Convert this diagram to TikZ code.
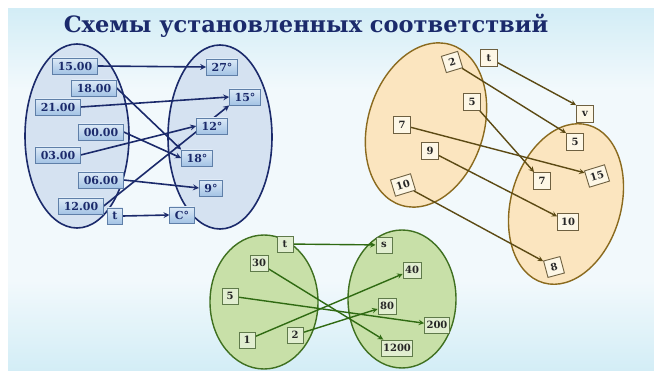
\documentclass[tikz,border=0pt]{standalone}
\usepackage{fontspec}
\setmainfont{DejaVu Serif}
\usetikzlibrary{positioning}
\pgfdeclarelayer{back}
\pgfdeclarelayer{lines}
\pgfsetlayers{back,lines,main}
\definecolor{navy}{HTML}{1B2A6B}
\definecolor{skyblue}{HTML}{D3EDF6}
\definecolor{skywhite}{HTML}{F2F9FC}
\definecolor{blueell}{HTML}{D5E2F1}
\definecolor{boxedge}{HTML}{5F7FA8}
\definecolor{boxtop}{HTML}{DDEAF7}
\definecolor{boxbot}{HTML}{A3C3E5}
\definecolor{ochre}{HTML}{8A6A1E}
\definecolor{peach}{HTML}{FBE5BF}
\definecolor{brownarr}{HTML}{5C4A14}
\definecolor{cream}{HTML}{FDF7E6}
\definecolor{creamedge}{HTML}{6E6040}
\definecolor{leaf}{HTML}{3F7020}
\definecolor{lightleaf}{HTML}{C8E0A8}
\definecolor{greenarr}{HTML}{2F6A12}
\definecolor{mint}{HTML}{E1EED0}
\definecolor{mintedge}{HTML}{5F7A4A}
\begin{document}
\begin{tikzpicture}[>=stealth, x=1pt, y=-1pt,
    bbox/.style={draw=boxedge, line width=0.9pt, top color=boxtop, bottom color=boxbot,
        text=navy, font=\bfseries\fontsize{11}{13}\selectfont, minimum height=16pt, inner xsep=5pt, inner ysep=1pt},
    obox/.style={draw=creamedge, line width=0.9pt, fill=cream, text=black!85,
        font=\bfseries\fontsize{10}{12}\selectfont, minimum size=17pt, inner xsep=3.5pt, inner ysep=3pt},
    gbox/.style={draw=mintedge, line width=0.9pt, fill=mint, text=black!85,
        font=\bfseries\fontsize{10}{12}\selectfont, minimum size=16pt, inner sep=2pt},
    barr/.style={->, navy, line width=1.6pt},
    oarr/.style={->, brownarr, line width=1.4pt},
    garr/.style={->, greenarr, line width=1.4pt}]
    \begin{pgfonlayer}{back}
        \fill[white] (0,0) rectangle (654,371);
        \shade[top color=skyblue, bottom color=skywhite] (8,9) rectangle (654,90);
        \fill[skywhite] (8,90) rectangle (654,280);
        \shade[top color=skywhite, bottom color=skyblue] (8,280) rectangle (654,371);
        \draw[navy, line width=1.6pt, fill=blueell] (77,136) ellipse [x radius=52, y radius=92];
        \draw[navy, line width=1.6pt, fill=blueell] (220,137) ellipse [x radius=52, y radius=92];
        \draw[ochre, line width=1.4pt, fill=peach, rotate around={-17:(426,125)}] (426,125) ellipse [x radius=58, y radius=84];
        \draw[ochre, line width=1.4pt, fill=peach, rotate around={-16:(566,204)}] (566,204) ellipse [x radius=55, y radius=82];
        \draw[leaf, line width=1.4pt, fill=lightleaf] (264,302) ellipse [x radius=54, y radius=67];
        \draw[leaf, line width=1.4pt, fill=lightleaf] (402,299) ellipse [x radius=54, y radius=69];
    \end{pgfonlayer}
    \node[anchor=base, text=navy, font=\bfseries\fontsize{22.5}{26}\selectfont] (title) at (306,33) {Схемы установленных соответствий};
    \node[bbox] (t1500) at (75,66) {15.00};
    \node[bbox] (t1800) at (94,88) {18.00};
    \node[bbox] (t2100) at (58,107) {21.00};
    \node[bbox] (t0000) at (101,132) {00.00};
    \node[bbox] (t0300) at (58,155) {03.00};
    \node[bbox] (t0600) at (101,180) {06.00};
    \node[bbox] (t1200) at (81,206) {12.00};
    \node[bbox] (tt) at (115,216) {t};
    \node[bbox] (d27) at (222,67) {27°};
    \node[bbox] (d15) at (245,97) {15°};
    \node[bbox] (d12) at (212,126) {12°};
    \node[bbox] (d18) at (197,158) {18°};
    \node[bbox] (d9) at (211,188) {9°};
    \node[bbox] (dC) at (182,215) {C°};
    \node[obox, rotate=17] (a2) at (452,62) {2};
    \node[obox] (at) at (489,58) {t};
    \node[obox] (a5) at (472,102) {5};
    \node[obox] (a7) at (402,125) {7};
    \node[obox] (a9) at (430,151) {9};
    \node[obox, rotate=17] (a10) at (403,185) {10};
    \node[obox] (bv) at (585,114) {v};
    \node[obox] (b5) at (575,142) {5};
    \node[obox, rotate=17] (b15) at (597,176) {15};
    \node[obox] (b7) at (542,181) {7};
    \node[obox] (b10) at (568,222) {10};
    \node[obox, rotate=15] (b8) at (554,267) {8};
    \node[gbox] (gt) at (285,244) {t};
    \node[gbox] (g30) at (259,263) {30};
    \node[gbox] (g5) at (230,296) {5};
    \node[gbox] (g1) at (247,340) {1};
    \node[gbox] (g2) at (295,335) {2};
    \node[gbox] (gs) at (384,245) {s};
    \node[gbox] (g40) at (412,270) {40};
    \node[gbox] (g80) at (387,306) {80};
    \node[gbox] (g200) at (437,325) {200};
    \node[gbox] (g1200) at (397,348) {1200};
    \begin{pgfonlayer}{lines}
        \draw[barr] (t1500.east) -- (d27.west);
        \draw[barr] (t1800.east) -- (d18.north west);
        \draw[barr] (t2100.east) -- (d15.west);
        \draw[barr] (t0000.east) -- (d18.west);
        \draw[barr] (t0300.east) -- (d12.west);
        \draw[barr] (t0600.east) -- (d9.west);
        \draw[barr] (t1200.east) -- (d15.south west);
        \draw[barr] (tt.east) -- (dC.west);
        \draw[oarr] (at) -- (bv.north west);
        \draw[oarr] (a2) -- (b5.north west);
        \draw[oarr] (a5) -- (b7);
        \draw[oarr] (a7) -- (b15);
        \draw[oarr] (a9) -- (b10);
        \draw[oarr] (a10) -- (b8);
        \draw[garr] (gt) -- (gs);
        \draw[garr] (g30) -- (g1200);
        \draw[garr] (g5) -- (g200);
        \draw[garr] (g1) -- (g40);
        \draw[garr] (g2) -- (g80);
    \end{pgfonlayer}
    \useasboundingbox (0,0) rectangle (654,371);
\end{tikzpicture}
\end{document}
